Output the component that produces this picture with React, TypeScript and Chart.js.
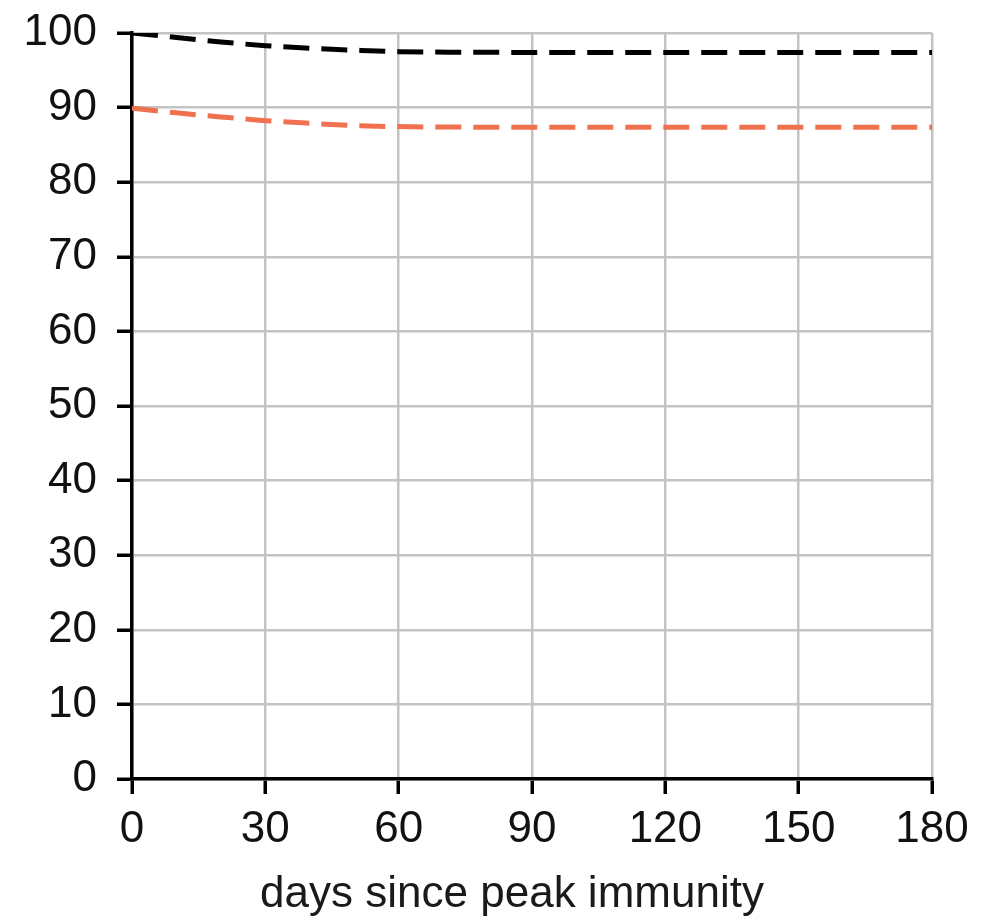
import React, { useEffect, useRef } from "react";
import { Chart, registerables } from "chart.js";

Chart.register(...registerables);

const days = [0, 10, 20, 30, 40, 50, 60, 75, 90, 120, 150, 180];
const seriesA = [100, 99.4, 98.8, 98.3, 97.95, 97.7, 97.5, 97.42, 97.4, 97.4, 97.4, 97.4];
const seriesB = [89.9, 89.3, 88.75, 88.25, 87.9, 87.6, 87.45, 87.38, 87.35, 87.35, 87.35, 87.35];
const xTicks = [0, 30, 60, 90, 120, 150, 180];
const yTicks = [0, 10, 20, 30, 40, 50, 60, 70, 80, 90, 100];
const xTitle = "days since peak immunity";

const FONT_FAMILY = "'Liberation Sans', Arial, sans-serif";

const titlePlugin = {
  id: "xTitleOffset",
  afterDraw(chart: any) {
    const { ctx, chartArea } = chart;
    ctx.save();
    ctx.font = `44px ${FONT_FAMILY}`;
    ctx.fillStyle = "#1a1a1a";
    ctx.textAlign = "center";
    ctx.textBaseline = "alphabetic";
    const cx = (chartArea.left + chartArea.right) / 2 - 20;
    ctx.fillText(xTitle, cx, chart.height - 17);
    ctx.restore();
  },
};

export default function App() {
  const ref = useRef<HTMLCanvasElement | null>(null);
  useEffect(() => {
    if (!ref.current) return;
    const font = { family: FONT_FAMILY, size: 44 };
    const chart = new Chart(ref.current, {
      type: "line",
      data: {
        datasets: [
          {
            label: "A",
            data: days.map((d, i) => ({ x: d, y: seriesA[i] })),
            borderColor: "#000000",
            borderWidth: 5,
            borderDash: [26, 12],
            pointRadius: 0,
            cubicInterpolationMode: "monotone",
          },
          {
            label: "B",
            data: days.map((d, i) => ({ x: d, y: seriesB[i] })),
            borderColor: "#ef7150",
            borderWidth: 5,
            borderDash: [26, 12],
            pointRadius: 0,
            cubicInterpolationMode: "monotone",
          },
        ],
      },
      options: {
        animation: false,
        responsive: true,
        maintainAspectRatio: false,
        layout: { padding: { left: 0, right: 53, top: 33, bottom: 0 } },
        plugins: { legend: { display: false }, tooltip: { enabled: false } },
        scales: {
          x: {
            type: "linear",
            min: 0,
            max: 180,
            afterBuildTicks: (axis: any) => {
              axis.ticks = xTicks.map((v) => ({ value: v }));
            },
            afterFit: (axis: any) => {
              axis.height = 145;
              axis.paddingLeft = 0;
              axis.paddingRight = 0;
            },
            grid: {
              color: "#c3c3c3",
              lineWidth: 2.5,
              tickColor: "#000000",
              tickWidth: 3.5,
              tickLength: 15,
            },
            border: { color: "#000000", width: 3.5 },
            ticks: { color: "#111111", font, padding: 9, maxRotation: 0 },
            title: { display: false },
          },
          y: {
            type: "linear",
            min: 0,
            max: 100,
            afterBuildTicks: (axis: any) => {
              axis.ticks = yTicks.map((v) => ({ value: v }));
            },
            afterFit: (axis: any) => {
              axis.width = 132;
              axis.paddingTop = 0;
              axis.paddingBottom = 0;
            },
            grid: {
              color: "#c3c3c3",
              lineWidth: 2.5,
              tickColor: "#000000",
              tickWidth: 3.5,
              tickLength: 15,
            },
            border: { color: "#000000", width: 3.5 },
            ticks: { color: "#111111", font, padding: 20 },
          },
        },
      },
      plugins: [titlePlugin],
    });
    return () => chart.destroy();
  }, []);
  return (
    <div style={{ position: "fixed", left: 0, top: 0, width: 985, height: 924, background: "#fff" }}>
      <canvas ref={ref} />
    </div>
  );
}
